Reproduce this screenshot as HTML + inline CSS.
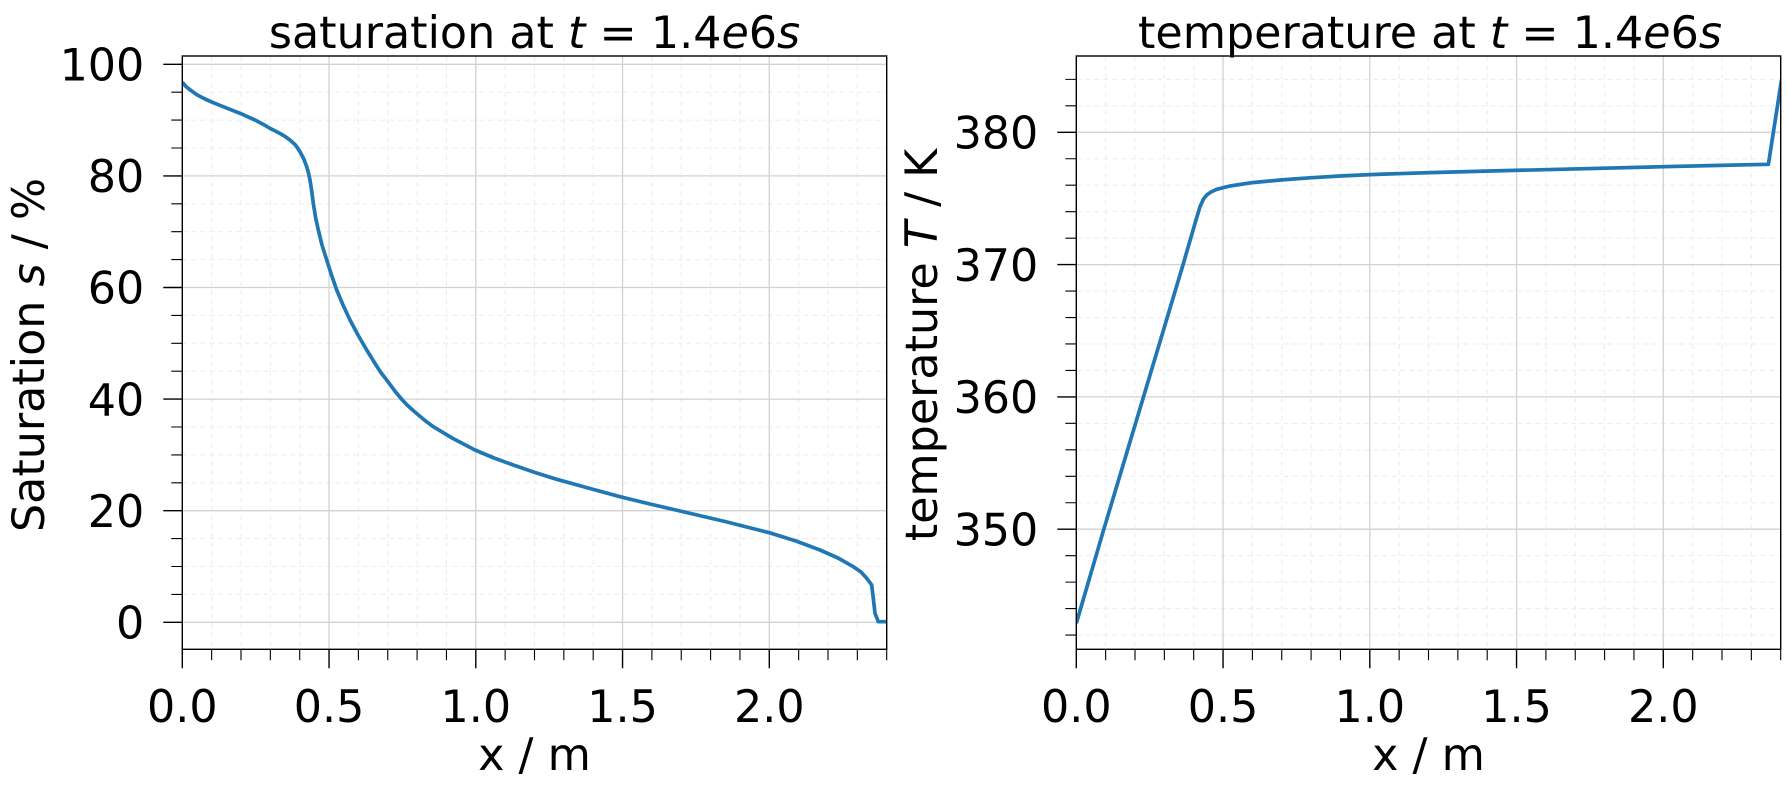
<!DOCTYPE html>
<html><head><meta charset="utf-8"><style>
html,body{margin:0;padding:0;background:#fff;}
svg{display:block;}
text{font-family:"DejaVu Sans","Liberation Sans",sans-serif;font-size:44.4px;fill:#000;}
</style></head><body>
<svg width="1790" height="789" viewBox="0 0 1790 789" xmlns="http://www.w3.org/2000/svg">
<defs>
<clipPath id="c1"><rect x="182.3" y="56" width="704.4" height="593.3"/></clipPath>
<clipPath id="c2"><rect x="1076.3" y="56" width="704.4" height="593.3"/></clipPath>
</defs>
<rect width="1790" height="789" fill="#fff"/>

<!-- LEFT PANEL -->
<g fill="none">
<path stroke="#ececec" stroke-width="1" stroke-dasharray="5 4" d="M211.65 56V649.3M241 56V649.3M270.35 56V649.3M299.7 56V649.3M358.4 56V649.3M387.75 56V649.3M417.1 56V649.3M446.45 56V649.3M505.15 56V649.3M534.5 56V649.3M563.85 56V649.3M593.2 56V649.3M651.9 56V649.3M681.25 56V649.3M710.6 56V649.3M739.95 56V649.3M798.65 56V649.3M828 56V649.3M857.35 56V649.3
M182.3 594.4H886.7M182.3 566.5H886.7M182.3 538.6H886.7M182.3 482.8H886.7M182.3 454.9H886.7M182.3 427H886.7M182.3 371.2H886.7M182.3 343.3H886.7M182.3 315.4H886.7M182.3 259.6H886.7M182.3 231.7H886.7M182.3 203.8H886.7M182.3 148H886.7M182.3 120.1H886.7M182.3 92.2H886.7"/>
<path stroke="#d2d2d2" stroke-width="1.3" d="M329.05 56V649.3M475.8 56V649.3M622.55 56V649.3M769.3 56V649.3M182.3 622.3H886.7M182.3 510.7H886.7M182.3 399.1H886.7M182.3 287.5H886.7M182.3 175.9H886.7M182.3 64.3H886.7"/>
<path clip-path="url(#c1)" stroke="#1f77b4" stroke-width="3.7" stroke-linejoin="round" stroke-linecap="butt" d="M182.3 82.2L186 86.5L190 89.8L196.7 94.6L205 99L213.3 102.7L227 108.2L241.7 114L256 120.5L263 124.2L270 128.3L276 131.4L281 134L286 137.1L290 140L295.5 145L300 151.7L303.8 159L306.7 166.7L308.5 173L310 180L311.7 191L313.3 203.3L315.5 217L318.3 230L322 245L326.7 260L331.5 275L336.7 290L343 305L350 320L358 335L366.7 350L376 365L381 372.7L386.7 380L396 392.5L401.5 399L406.7 404.6L413 410.4L419 415.5L426 421.3L433.3 426.7L453 438.5L475 450L494 458L513.3 465L535 472.5L556.7 479.3L590 488.5L620 496.7L650 504L680 511L725 521.5L769.3 532.7L796 541L820 550L838 558L853.3 566.7L861 572L866.7 578.3L871.7 585L873.5 600L875 613.3L878.3 621.7L890 621.7"/>
<rect x="182.3" y="56" width="704.4" height="593.3" stroke="#000" stroke-width="1.4"/>
<path stroke="#000" stroke-width="1.4" d="M182.3 649.3v19M329.05 649.3v19M475.8 649.3v19M622.55 649.3v19M769.3 649.3v19M182.3 622.3h-19M182.3 510.7h-19M182.3 399.1h-19M182.3 287.5h-19M182.3 175.9h-19M182.3 64.3h-19"/>
<path stroke="#000" stroke-width="1.1" d="M211.65 649.3v11M241 649.3v11M270.35 649.3v11M299.7 649.3v11M358.4 649.3v11M387.75 649.3v11M417.1 649.3v11M446.45 649.3v11M505.15 649.3v11M534.5 649.3v11M563.85 649.3v11M593.2 649.3v11M651.9 649.3v11M681.25 649.3v11M710.6 649.3v11M739.95 649.3v11M798.65 649.3v11M828 649.3v11M857.35 649.3v11M886.7 649.3v11
M182.3 594.4h-11M182.3 566.5h-11M182.3 538.6h-11M182.3 482.8h-11M182.3 454.9h-11M182.3 427h-11M182.3 371.2h-11M182.3 343.3h-11M182.3 315.4h-11M182.3 259.6h-11M182.3 231.7h-11M182.3 203.8h-11M182.3 148h-11M182.3 120.1h-11M182.3 92.2h-11"/>
</g>
<g text-anchor="end">
<text x="144.3" y="638.5">0</text>
<text x="144.3" y="526.9">20</text>
<text x="144.3" y="415.3">40</text>
<text x="144.3" y="303.7">60</text>
<text x="144.3" y="192.1">80</text>
<text x="144.3" y="80.5">100</text>
</g>
<g text-anchor="middle">
<text x="182.3" y="722">0.0</text>
<text x="329.05" y="722">0.5</text>
<text x="475.8" y="722">1.0</text>
<text x="622.55" y="722">1.5</text>
<text x="769.3" y="722">2.0</text>
<text x="534.5" y="770">x / m</text>
<text x="534.5" y="48">saturation at <tspan font-style="italic">t</tspan> = 1.4<tspan font-style="italic">e</tspan>6<tspan font-style="italic">s</tspan></text>
<text transform="translate(44,355) rotate(-90)">Saturation <tspan font-style="italic">s</tspan> / %</text>
</g>

<!-- RIGHT PANEL -->
<g fill="none">
<path transform="translate(894,0)" stroke="#ececec" stroke-width="1" stroke-dasharray="5 4" d="M211.65 56V649.3M241 56V649.3M270.35 56V649.3M299.7 56V649.3M358.4 56V649.3M387.75 56V649.3M417.1 56V649.3M446.45 56V649.3M505.15 56V649.3M534.5 56V649.3M563.85 56V649.3M593.2 56V649.3M651.9 56V649.3M681.25 56V649.3M710.6 56V649.3M739.95 56V649.3M798.65 56V649.3M828 56V649.3M857.35 56V649.3"/>
<path stroke="#ececec" stroke-width="1" stroke-dasharray="5 4" d="M1076.3 635.04H1780.7M1076.3 608.58H1780.7M1076.3 582.12H1780.7M1076.3 555.66H1780.7M1076.3 502.74H1780.7M1076.3 476.28H1780.7M1076.3 449.82H1780.7M1076.3 423.36H1780.7M1076.3 370.44H1780.7M1076.3 343.98H1780.7M1076.3 317.52H1780.7M1076.3 291.06H1780.7M1076.3 238.14H1780.7M1076.3 211.68H1780.7M1076.3 185.22H1780.7M1076.3 158.76H1780.7M1076.3 105.84H1780.7M1076.3 79.38H1780.7"/>
<path stroke="#d2d2d2" stroke-width="1.3" d="M1223.05 56V649.3M1369.8 56V649.3M1516.55 56V649.3M1663.3 56V649.3M1076.3 529.2H1780.7M1076.3 396.9H1780.7M1076.3 264.6H1780.7M1076.3 132.3H1780.7"/>
<path clip-path="url(#c2)" stroke="#1f77b4" stroke-width="3.7" stroke-linejoin="round" d="M1076.3 623.3L1103.3 531L1143.3 397.5L1183.3 263.8L1196 220L1200 206.7L1203.5 199L1206.7 195L1211 192L1216.7 189.3L1230 186L1252.4 182.6L1281.75 179.9L1310 177.8L1339.9 176L1369.8 174.6L1430 172.6L1489.8 171L1580 168.8L1663.3 166.7L1720 165.4L1768.4 164.3L1781.5 80"/>
<rect x="1076.3" y="56" width="704.4" height="593.3" stroke="#000" stroke-width="1.4"/>
<path stroke="#000" stroke-width="1.4" d="M1076.3 649.3v19M1223.05 649.3v19M1369.8 649.3v19M1516.55 649.3v19M1663.3 649.3v19M1076.3 529.2h-19M1076.3 396.9h-19M1076.3 264.6h-19M1076.3 132.3h-19"/>
<path transform="translate(894,0)" stroke="#000" stroke-width="1.1" d="M211.65 649.3v11M241 649.3v11M270.35 649.3v11M299.7 649.3v11M358.4 649.3v11M387.75 649.3v11M417.1 649.3v11M446.45 649.3v11M505.15 649.3v11M534.5 649.3v11M563.85 649.3v11M593.2 649.3v11M651.9 649.3v11M681.25 649.3v11M710.6 649.3v11M739.95 649.3v11M798.65 649.3v11M828 649.3v11M857.35 649.3v11M886.7 649.3v11"/>
<path stroke="#000" stroke-width="1.1" d="M1076.3 635.04h-11M1076.3 608.58h-11M1076.3 582.12h-11M1076.3 555.66h-11M1076.3 502.74h-11M1076.3 476.28h-11M1076.3 449.82h-11M1076.3 423.36h-11M1076.3 370.44h-11M1076.3 343.98h-11M1076.3 317.52h-11M1076.3 291.06h-11M1076.3 238.14h-11M1076.3 211.68h-11M1076.3 185.22h-11M1076.3 158.76h-11M1076.3 105.84h-11M1076.3 79.38h-11"/>
</g>
<g text-anchor="end">
<text x="1038.3" y="545.4">350</text>
<text x="1038.3" y="413.1">360</text>
<text x="1038.3" y="280.8">370</text>
<text x="1038.3" y="148.5">380</text>
</g>
<g text-anchor="middle">
<text x="1076.3" y="722">0.0</text>
<text x="1223.05" y="722">0.5</text>
<text x="1369.8" y="722">1.0</text>
<text x="1516.55" y="722">1.5</text>
<text x="1663.3" y="722">2.0</text>
<text x="1428.5" y="770">x / m</text>
<text x="1430" y="48">temperature at <tspan font-style="italic">t</tspan> = 1.4<tspan font-style="italic">e</tspan>6<tspan font-style="italic">s</tspan></text>
<text transform="translate(937,345) rotate(-90)">temperature <tspan font-style="italic">T</tspan> / K</text>
</g>
</svg>
</body></html>
